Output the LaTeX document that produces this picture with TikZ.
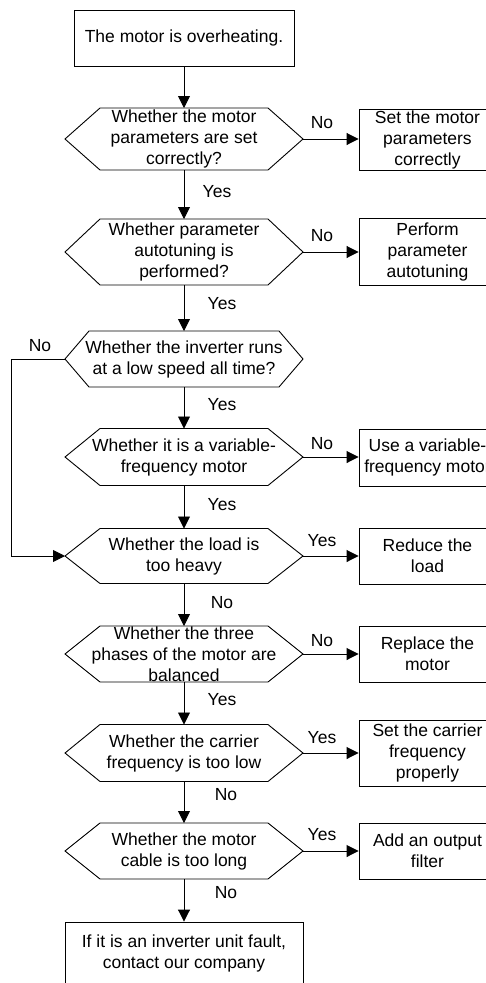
\documentclass[tikz,border=0pt]{standalone}
\usepackage{fontspec}
\setmainfont{Liberation Sans}
\usetikzlibrary{arrows.meta}
\newcommand\hexnode[6]{% name, cx, cy, halfh, dx, text
  \node[hextext] (#1) at (#2,#3) {#6};
  \coordinate (#1-w) at ({#2-119},#3);
  \coordinate (#1-e) at ({#2+119},#3);
  \coordinate (#1-n) at (#2,{#3-#4});
  \coordinate (#1-s) at (#2,{#3+#4});
  \draw[shapeline] (#1-w) -- ({#2-119+#5},{#3-#4}) -- ({#2+119-#5},{#3-#4}) -- (#1-e)
     -- ({#2+119-#5},{#3+#4}) -- ({#2-119+#5},{#3+#4}) -- cycle;
}
\begin{document}
\begin{tikzpicture}[x=1pt,y=-1pt,
  font=\fontsize{17.5}{21}\selectfont,
  shapeline/.style={draw=black, line width=0.9pt},
  hextext/.style={align=center, inner sep=0pt},
  box/.style={shapeline, align=center, inner sep=0pt, minimum width=#1},
  arr/.style={draw=black, line width=0.9pt, -{Triangle[length=12pt,width=12pt]}},
  lbl/.style={inner sep=0pt}
]
\useasboundingbox (0,0) rectangle (486,983);
\clip (0,0) rectangle (486,983);

% top box
\node[box=220pt, minimum height=56pt] (start) at (184,38) {The motor is overheating.};

% hexagons
\hexnode{h1}{184}{139}{31}{35}{Whether the motor\\parameters are set\\correctly?}
\hexnode{h2}{184}{252}{33}{35}{Whether parameter\\autotuning is\\performed?}
\hexnode{h3}{184}{359}{28}{24}{Whether the inverter runs\\at a low speed all time?}
\hexnode{h4}{184}{457}{28.5}{35}{Whether it is a variable-\\frequency motor}
\hexnode{h5}{184}{556}{27.5}{35}{Whether the load is\\too heavy}
\hexnode{h6}{184}{654}{28}{35}{Whether the three\\phases of the motor are\\balanced}
\hexnode{h7}{184}{753}{28.5}{35}{Whether the carrier\\frequency is too low}
\hexnode{h8}{184}{851}{28}{35}{Whether the motor\\cable is too long}

% bottom box
\node[box=238pt, minimum height=63pt] (end) at (184,953.5) {If it is an inverter unit fault,\\contact our company};

% right boxes
\node[box=137pt, minimum height=61pt] (r1) at (427.5,139.5) {Set the motor\\parameters\\correctly};
\node[box=137pt, minimum height=67pt] (r2) at (427.5,251.5) {Perform\\parameter\\autotuning};
\node[box=137pt, minimum height=57pt] (r4) at (427.5,457.5) {Use a variable-\\frequency motor};
\node[box=137pt, minimum height=56pt] (r5) at (427.5,556) {Reduce the\\load};
\node[box=137pt, minimum height=56pt] (r6) at (427.5,654) {Replace the\\motor};
\node[box=137pt, minimum height=66pt] (r7) at (427.5,753) {Set the carrier\\frequency\\properly};
\node[box=137pt, minimum height=56pt] (r8) at (427.5,851) {Add an output\\filter};

% vertical arrows
\draw[arr] (start.south) -- (h1-n);
\draw[arr] (h1-s) -- (h2-n);
\draw[arr] (h2-s) -- (h3-n);
\draw[arr] (h3-s) -- (h4-n);
\draw[arr] (h4-s) -- (h5-n);
\draw[arr] (h5-s) -- (h6-n);
\draw[arr] (h6-s) -- (h7-n);
\draw[arr] (h7-s) -- (h8-n);
\draw[arr] (h8-s) -- (end.north);

% horizontal arrows
\draw[arr] (h1-e) -- (r1.west |- h1-e);
\draw[arr] (h2-e) -- (r2.west |- h2-e);
\draw[arr] (h4-e) -- (r4.west |- h4-e);
\draw[arr] (h5-e) -- (r5.west |- h5-e);
\draw[arr] (h6-e) -- (r6.west |- h6-e);
\draw[arr] (h7-e) -- (r7.west |- h7-e);
\draw[arr] (h8-e) -- (r8.west |- h8-e);

% loop
\coordinate (lp) at (11,359);
\draw[arr] (h3-w) -- (lp) -- (lp |- h5-w) -- (h5-w);

% labels
\node[lbl] (l1) at (322,123) {No};
\node[lbl] (l2) at (217,192) {Yes};
\node[lbl] (l3) at (322,236) {No};
\node[lbl] (l4) at (222,304) {Yes};
\node[lbl] (l5) at (40,346) {No};
\node[lbl] (l6) at (222,405) {Yes};
\node[lbl] (l7) at (322,444) {No};
\node[lbl] (l8) at (222,505) {Yes};
\node[lbl] (l9) at (322,541) {Yes};
\node[lbl] (l10) at (222,603) {No};
\node[lbl] (l11) at (322,641) {No};
\node[lbl] (l12) at (222,700) {Yes};
\node[lbl] (l13) at (322,738) {Yes};
\node[lbl] (l14) at (226,795) {No};
\node[lbl] (l15) at (322,835) {Yes};
\node[lbl] (l16) at (226,893) {No};
\end{tikzpicture}
\end{document}
